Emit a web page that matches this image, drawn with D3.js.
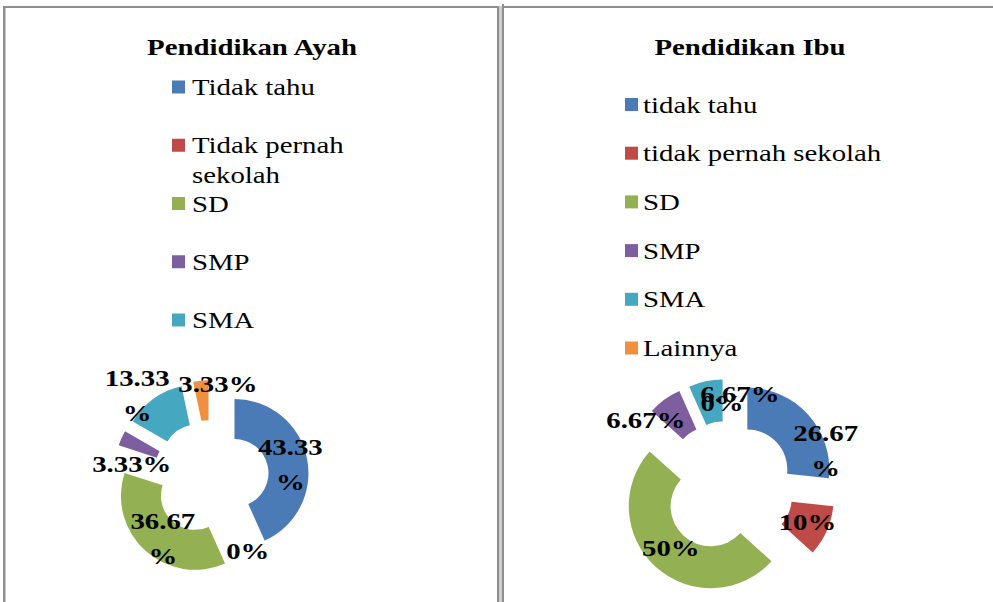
<!DOCTYPE html>
<head>
  <meta charset="utf-8">
  <style>
    body { margin: 0; background: #fff; }
  </style>
</head>
<body>
<script src="https://cdnjs.cloudflare.com/ajax/libs/d3/7.8.5/d3.min.js"></script>
<script>

var ayahCategories = ["Tidak tahu", "Tidak pernah sekolah", "SD", "SMP", "SMA", "Lainnya"];
var ayahValues = [43.33, 0, 36.67, 3.33, 13.33, 3.33];
var ayahLegendCount = 5;   // legend box cuts off the last entry

var ibuCategories = ["tidak tahu", "tidak pernah sekolah", "SD", "SMP", "SMA", "Lainnya"];
var ibuValues = [26.67, 10, 50, 6.67, 6.67, 0];
var ibuLegendCount = 6;

var titles = ["Pendidikan Ayah", "Pendidikan Ibu"];
var colours = ["#4A7BB7", "#BE4B48", "#93B053", "#7D5FA0", "#46A7C0", "#F08F3E"];

var W = 993, H = 602;
var stretch = 1.2;   // original picture is wider than tall
var serif = "'Liberation Serif', 'Times New Roman', Tinos, 'DejaVu Serif', serif";

var svg = d3.select("body").append("svg")
    .attr("width", W)
    .attr("height", H)
    .style("font-family", serif);

// table cell borders
svg.append("rect").attr("x", 3).attr("y", 6).attr("width", W - 3).attr("height", 2).attr("fill", "#8e8e8e");
svg.append("rect").attr("x", 3).attr("y", 6).attr("width", 2.5).attr("height", H).attr("fill", "#8e8e8e");
svg.append("rect").attr("x", 497).attr("y", 6).attr("width", 7).attr("height", H).attr("fill", "#cfcfcf");
svg.append("rect").attr("x", 497).attr("y", 6).attr("width", 2).attr("height", H).attr("fill", "#8e8e8e");
svg.append("rect").attr("x", 502).attr("y", 4).attr("width", 2).attr("height", H).attr("fill", "#8e8e8e");

var panels = [
  {
    cats: ayahCategories, vals: ayahValues, legendCount: ayahLegendCount, title: titles[0],
    cx: 211, cy: 478, r: 74, ri: 34, explode: 24,
    titleX: 252, legendX: 172, legendTextX: 192, legendRange: [87, 320], wrapWidth: 170,
    nudge: [[3, 3], [5, 2], [4, 3], [-8, 18], [-28, -19], [15, -16]]
  },
  {
    cats: ibuCategories, vals: ibuValues, legendCount: ibuLegendCount, title: titles[1],
    cx: 728, cy: 487, r: 82, ri: 40, explode: 26,
    titleX: 750, legendX: 625, legendTextX: 643, legendRange: [104.5, 348], wrapWidth: 400,
    nudge: [[33, 22], [0, 0], [1, -4], [-31, 3], [30, -8], [-6, 3]]
  }
];

var fmt = d3.format(".2~f");

panels.forEach(function(p) {
  var g = svg.append("g");

  // title
  g.append("text")
    .attr("transform", "translate(" + p.titleX + ",55) scale(" + stretch + ",1)")
    .attr("text-anchor", "middle")
    .style("font-family", serif)
    .style("font-size", "24px")
    .style("font-weight", "bold")
    .text(p.title);

  // legend
  var legendCats = p.cats.slice(0, p.legendCount);
  var ly = d3.scalePoint().domain(legendCats).range(p.legendRange);

  legendCats.forEach(function(c, i) {
    g.append("rect")
      .attr("x", p.legendX)
      .attr("y", ly(c) - 6.5)
      .attr("width", 13)
      .attr("height", 13)
      .attr("fill", colours[i]);

    var t = g.append("text")
      .attr("transform", "translate(" + p.legendTextX + "," + (ly(c) + 8) + ") scale(" + stretch + ",1)")
      .style("font-family", serif)
      .style("font-size", "24px");

    // greedy word wrap
    var words = c.split(" "), line = [], lineNo = 0;
    var tspan = t.append("tspan").attr("x", 0).attr("y", 0);
    words.forEach(function(w) {
      line.push(w);
      tspan.text(line.join(" "));
      if (tspan.node().getComputedTextLength() * stretch > p.wrapWidth && line.length > 1) {
        line.pop();
        tspan.text(line.join(" "));
        line = [w];
        lineNo++;
        tspan = t.append("tspan").attr("x", 0).attr("y", lineNo * 30).text(w);
      }
    });
  });

  // doughnut
  var pie = d3.pie().sort(null).startAngle(0).endAngle(2 * Math.PI);
  var arcs = pie(p.vals);
  var arc = d3.arc().innerRadius(p.ri).outerRadius(p.r);
  var midR = (p.r + p.ri) / 2;

  var donut = g.append("g").attr("transform", "translate(" + p.cx + "," + p.cy + ")");

  arcs.forEach(function(a, i) {
    var mid = (a.startAngle + a.endAngle) / 2;
    var ex = Math.sin(mid) * p.explode, ey = -Math.cos(mid) * p.explode;

    if (a.value > 0) {
      donut.append("path")
        .attr("d", arc(a))
        .attr("transform", "translate(" + ex + "," + ey + ")")
        .attr("fill", colours[i]);
    }

    var lx = Math.sin(mid) * (midR + p.explode) + p.nudge[i][0];
    var lyy = -Math.cos(mid) * (midR + p.explode) + p.nudge[i][1];
    var num = fmt(a.value);
    var lines = num.length >= 5 ? [num, "%"] : [num + "%"];

    var lbl = donut.append("text")
      .attr("transform", "translate(" + lx + "," + lyy + ") scale(" + stretch + ",1)")
      .attr("text-anchor", "middle")
      .style("font-family", serif)
      .style("font-size", "24px")
      .style("font-weight", "bold");

    lines.forEach(function(s, k) {
      lbl.append("tspan")
        .attr("x", 0)
        .attr("y", 8 + (k - (lines.length - 1) / 2) * 35)
        .text(s);
    });
  });
});

</script>
</body>
